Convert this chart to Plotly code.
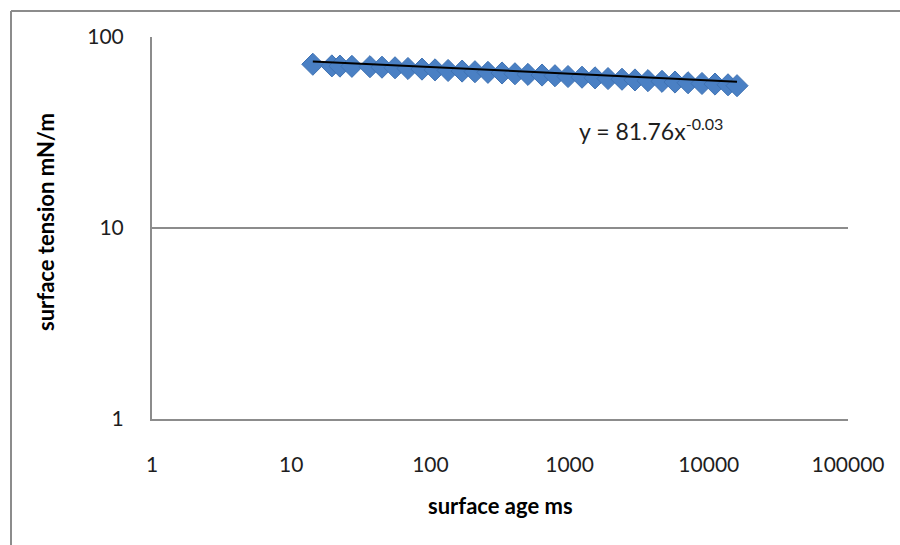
import plotly.graph_objects as go

# Surface age (ms) and measured surface tension (mN/m)
surface_age_ms = [14.3, 19.6, 22.4, 27.3, 36.8, 44.9, 55.7, 69.0, 87.0, 108,
                  134, 169, 209, 259, 327, 405, 502, 634, 785, 974,
                  1228, 1523, 1888, 2379, 2949, 3656, 4611, 5717, 7092, 8934,
                  11080, 13740, 15950]
surface_tension = [72.0, 70.6, 70.4, 70.2, 69.9, 69.5, 69.0, 68.4, 67.9, 67.3,
                   66.8, 66.3, 65.8, 65.3, 64.8, 64.2, 63.7, 63.2, 62.7, 62.1,
                   61.6, 61.1, 60.6, 60.1, 59.6, 59.1, 58.6, 58.1, 57.6, 57.1,
                   56.7, 56.2, 55.6]

# Power-law trendline y = A * x^B
trend_A = 81.76
trend_B = -0.0349

x_tickvals = [1, 10, 100, 1000, 10000, 100000]
x_ticktext = ["1", "10", "100", "1000", "10000", "100000"]
y_tickvals = [1, 10, 100]
y_ticktext = ["1", "10", "100"]

trend_x = [surface_age_ms[0], surface_age_ms[-1]]
trend_y = [trend_A * v ** trend_B for v in trend_x]

FONT = "Lato, 'Open Sans', sans-serif"
GRID = "#8c8c8c"

fig = go.Figure()
fig.add_trace(go.Scatter(
    x=surface_age_ms, y=surface_tension, mode="markers",
    marker=dict(symbol="diamond", size=17, color="#4a80c4",
                line=dict(color="#3f72b3", width=1)),
    showlegend=False, hoverinfo="x+y",
))
fig.add_trace(go.Scatter(
    x=trend_x, y=trend_y, mode="lines",
    line=dict(color="#000000", width=2),
    showlegend=False, hoverinfo="skip",
))

W, H = 900, 545
L, R, T, B = 152, 52, 37, 126
pw, ph = W - L - R, H - T - B


def px_to_paper_x(px):
    return (px - L) / pw


def px_to_paper_y(py):
    return (H - B - py) / ph


fig.update_layout(
    width=W, height=H,
    margin=dict(l=L, r=R, t=T, b=B, pad=0),
    paper_bgcolor="white", plot_bgcolor="white",
    font=dict(family=FONT, size=22, color="#1e1e1e"),
    xaxis=dict(
        type="log", range=[0, 5],
        tickvals=x_tickvals, ticktext=x_ticktext,
        showgrid=False, zeroline=False,
        showline=True, linecolor=GRID, linewidth=2,
        ticks="", ticklabelstandoff=26,
        tickfont=dict(family=FONT, size=21, color="#1e1e1e"),
    ),
    yaxis=dict(
        type="log", range=[0, 2],
        tickvals=y_tickvals, ticktext=y_ticktext,
        showgrid=True, gridcolor=GRID, gridwidth=1.5,
        zeroline=False,
        showline=True, linecolor=GRID, linewidth=2,
        ticks="", ticklabelstandoff=22,
        tickfont=dict(family=FONT, size=21, color="#1e1e1e"),
    ),
    shapes=[
        # outer chart frame
        dict(type="line", xref="paper", yref="paper",
             x0=px_to_paper_x(11), x1=px_to_paper_x(905),
             y0=px_to_paper_y(11), y1=px_to_paper_y(11),
             line=dict(color=GRID, width=2)),
        dict(type="line", xref="paper", yref="paper",
             x0=px_to_paper_x(11), x1=px_to_paper_x(11),
             y0=px_to_paper_y(11), y1=px_to_paper_y(550),
             line=dict(color=GRID, width=2)),
    ],
    annotations=[
        dict(text=f"y = {trend_A:.2f}x<sup>{trend_B:.2f}</sup>",
             xref="paper", yref="paper",
             x=px_to_paper_x(577), y=px_to_paper_y(129),
             xanchor="left", yanchor="middle", showarrow=False,
             font=dict(family=FONT, size=23, color="#1e1e1e")),
        dict(text="<b>surface age ms</b>",
             xref="paper", yref="paper",
             x=px_to_paper_x(501), y=px_to_paper_y(505),
             xanchor="center", yanchor="middle", showarrow=False,
             font=dict(family=FONT, size=22, color="#000000")),
        dict(text="<b>surface tension mN/m</b>",
             xref="paper", yref="paper",
             x=px_to_paper_x(45), y=px_to_paper_y(222),
             xanchor="center", yanchor="middle", showarrow=False,
             textangle=-90,
             font=dict(family=FONT, size=22, color="#000000")),
    ],
)

fig.write_html("out.html")
